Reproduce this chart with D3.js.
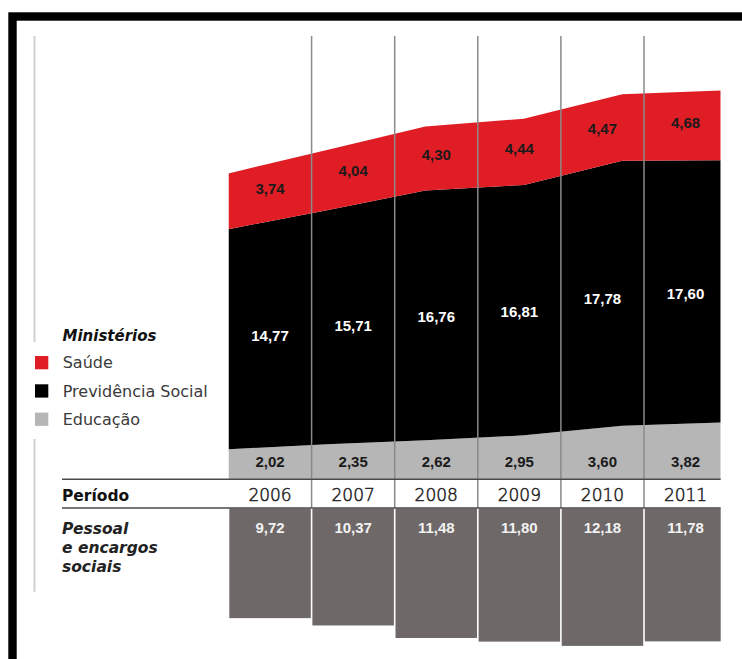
<!DOCTYPE html>
<html lang="pt">
<head>
    <meta charset="utf-8" />
    <title>Ministérios - gastos por período</title>
    <script src="https://d3js.org/d3.v7.min.js"></script>
    <style>
        body {
            margin: 0;
            padding: 0;
            background: white;
        }
        .legend-title, .side-label {
            font-family: "DejaVu Sans", sans-serif;
            font-weight: bold;
            font-style: italic;
        }
        .legend-item {
            font-family: "DejaVu Sans", sans-serif;
            font-size: 16px;
            fill: #3a3a3a;
        }
        .value {
            font-family: "Liberation Sans", Arial, sans-serif;
            font-weight: bold;
            font-size: 15px;
            text-anchor: middle;
        }
        .year {
            font-family: "DejaVu Sans", sans-serif;
            font-weight: 300;
            font-size: 17px;
            fill: #222;
            stroke: #222;
            stroke-width: 0.5px;
            text-anchor: middle;
        }
    </style>
</head>
<body>
<svg id="chart"></svg>
<script>
    var w = 742;
    var h = 659;

    // Data (R$ bilhões)
    var years = ["2006", "2007", "2008", "2009", "2010", "2011"];
    var saude = [3.74, 4.04, 4.30, 4.44, 4.47, 4.68];
    var previdencia = [14.77, 15.71, 16.76, 16.81, 17.78, 17.60];
    var educacao = [2.02, 2.35, 2.62, 2.95, 3.60, 3.82];
    var pessoal = [9.72, 10.37, 11.48, 11.80, 12.18, 11.78];

    var seriesKeys = ["educacao", "previdencia", "saude"];
    var seriesNames = ["Saúde", "Previdência Social", "Educação"];
    var seriesColors = {saude: "#e01d25", previdencia: "#000000", educacao: "#b6b6b6"};
    var legendKeys = ["saude", "previdencia", "educacao"];

    // rows for d3.stack
    var rows = years.map(function(y, i) {
        return {year: y, educacao: educacao[i], previdencia: previdencia[i], saude: saude[i]};
    });

    // Brazilian number format: 3,74
    var fmt = d3.formatLocale({decimal: ",", thousands: ".", grouping: [3], currency: ["R$", ""]}).format(".2f");

    var svg = d3.select("#chart")
                .attr("width", w)
                .attr("height", h);

    // plot area edges
    var left = 228.5;
    var right = 720.7;

    // columns (the last column is cut at the right edge)
    var xBand = d3.scaleBand()
                .domain(years)
                .range([left, 727.1]);

    // points of the stacked area
    var xPoint = d3.scalePoint()
                .domain(years)
                .range([left, right]);

    var yStack = d3.scaleLinear()
                .domain([0, 27])
                .range([479.3, 479.3 - 27 * 14.9]);

    var yBar = d3.scaleLinear()
                .domain([0, 13])
                .range([508.5, 508.5 + 13 * 11.28]);

    svg.append("defs").append("clipPath")
        .attr("id", "plotClip")
        .append("rect")
        .attr("x", left)
        .attr("y", 0)
        .attr("width", right - left)
        .attr("height", h);

    // Black frame (only top and left are on the picture)
    svg.append("rect")
        .attr("x", 12.5)
        .attr("y", 16.5)
        .attr("width", 900)
        .attr("height", 900)
        .attr("fill", "none")
        .attr("stroke", "#000")
        .attr("stroke-width", 8.4);

    // light rule on the left, broken by the legend
    [[36, 342], [439, 591.7]].forEach(function(seg) {
        svg.append("line")
            .attr("x1", 34.5).attr("x2", 34.5)
            .attr("y1", seg[0]).attr("y2", seg[1])
            .attr("stroke", "#cfcfcf")
            .attr("stroke-width", 2);
    });

    // Stacked area
    var stack = d3.stack().keys(seriesKeys);
    var layers = stack(rows);

    var area = d3.area()
                .x(function(d) { return xPoint(d.data.year); })
                .y0(function(d) { return yStack(d[0]); })
                .y1(function(d) { return yStack(d[1]); });

    svg.append("g")
        .attr("clip-path", "url(#plotClip)")
        .selectAll("path")
        .data(layers)
        .enter().append("path")
        .attr("d", area)
        .attr("fill", function(d) { return seriesColors[d.key]; });

    // Pessoal e encargos sociais bars
    svg.append("g")
        .attr("clip-path", "url(#plotClip)")
        .selectAll("rect")
        .data(pessoal)
        .enter().append("rect")
        .attr("x", function(d, i) { return xBand(years[i]) + 0.8; })
        .attr("y", yBar(0))
        .attr("width", xBand.bandwidth() - 1.6)
        .attr("height", function(d) { return yBar(d) - yBar(0); })
        .attr("fill", "#6e6868");

    // column separators
    svg.selectAll("line.col")
        .data(years.slice(1))
        .enter().append("line")
        .attr("class", "col")
        .attr("x1", function(d) { return xBand(d); })
        .attr("x2", function(d) { return xBand(d); })
        .attr("y1", 36)
        .attr("y2", 508)
        .attr("stroke", "#8a8a8a")
        .attr("stroke-width", 1.5);

    // Período row rules
    [yStack(0), 508].forEach(function(y) {
        svg.append("line")
            .attr("x1", 62).attr("x2", right)
            .attr("y1", y).attr("y2", y)
            .attr("stroke", "#4a4a4a")
            .attr("stroke-width", 1.5);
    });

    // value labels on the stacked area, placed in the middle of the band
    // at the centre of each column (the area is interpolated there)
    var pointXs = years.map(function(y) { return xPoint(y); });
    layers.forEach(function(layer) {
        var topAt = d3.scaleLinear().domain(pointXs).range(layer.map(function(d) { return yStack(d[1]); }));
        var botAt = d3.scaleLinear().domain(pointXs).range(layer.map(function(d) { return yStack(d[0]); }));
        svg.append("g").selectAll("text")
            .data(layer)
            .enter().append("text")
            .attr("class", "value")
            .attr("x", function(d) { return xBand(d.data.year) + xBand.bandwidth() / 2; })
            .attr("y", function(d) {
                if (layer.key === "educacao") return yStack(0) - 12.6;
                var cx = xBand(d.data.year) + xBand.bandwidth() / 2;
                var mid = (topAt(cx) + botAt(cx)) / 2;
                return layer.key === "saude" ? mid + 2 : mid + 7;
            })
            .attr("fill", layer.key === "previdencia" ? "#fff" : "#1a1a1a")
            .text(function(d) { return fmt(d.data[layer.key]); });
    });

    // year labels
    svg.selectAll("text.year")
        .data(years)
        .enter().append("text")
        .attr("class", "year")
        .attr("x", function(d) { return xBand(d) + xBand.bandwidth() / 2; })
        .attr("y", 501)
        .text(function(d) { return d; });

    // labels on the bars
    svg.selectAll("text.bar")
        .data(pessoal)
        .enter().append("text")
        .attr("class", "value bar")
        .attr("x", function(d, i) { return xBand(years[i]) + xBand.bandwidth() / 2; })
        .attr("y", 532.7)
        .attr("fill", "#f2f2f2")
        .text(function(d) { return fmt(d); });

    // Legend
    svg.append("text")
        .attr("class", "legend-title")
        .attr("x", 62.5)
        .attr("y", 340.7)
        .attr("font-size", "15px")
        .attr("fill", "#111")
        .text("Ministérios");

    var legend = svg.selectAll("g.legend")
        .data(legendKeys)
        .enter().append("g")
        .attr("class", "legend")
        .attr("transform", function(d, i) { return "translate(0," + (i * 28.3) + ")"; });

    legend.append("rect")
        .attr("x", 35)
        .attr("y", 356)
        .attr("width", 13.3)
        .attr("height", 13.3)
        .attr("fill", function(d) { return seriesColors[d]; });

    legend.append("text")
        .attr("class", "legend-item")
        .attr("x", 62.7)
        .attr("y", 368.3)
        .text(function(d, i) { return seriesNames[i]; });

    // Período label
    svg.append("text")
        .attr("x", 62)
        .attr("y", 501)
        .attr("font-family", "DejaVu Sans, sans-serif")
        .attr("font-weight", "bold")
        .attr("font-size", "15.5px")
        .attr("fill", "#111")
        .text("Período");

    // Pessoal e encargos sociais label
    ["Pessoal", "e encargos", "sociais"].forEach(function(t, i) {
        svg.append("text")
            .attr("class", "side-label")
            .attr("x", 62)
            .attr("y", 534.3 + i * 19)
            .attr("font-size", "15.5px")
            .attr("fill", "#222")
            .text(t);
    });
</script>
</body>
</html>
